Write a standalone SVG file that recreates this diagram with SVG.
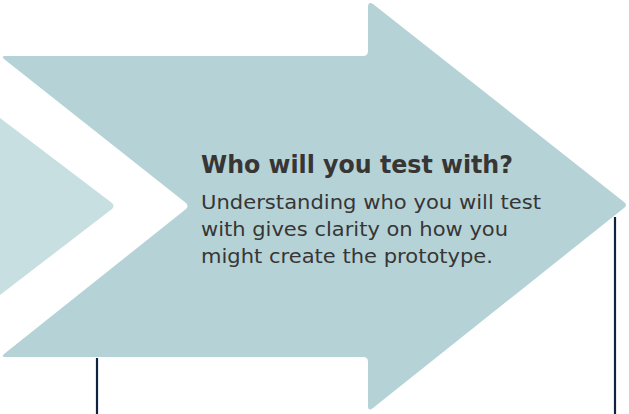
<svg xmlns="http://www.w3.org/2000/svg" width="629" height="414" viewBox="0 0 629 414">
<style>
.t{font-family:"DejaVu Sans","Liberation Sans",sans-serif;fill:#383535}
.h{font-size:24px;font-weight:bold}
.b{font-size:20px}
.ln{stroke:#0d2340;stroke-width:2.2;fill:none}
</style>
<rect width="629" height="414" fill="#ffffff"/>
<g id="chevron-prev">
<path d="M0,118 L112,203 Q115,206 112,209 L0,295 Z" fill="#c8dfe2"/>
</g>
<g id="connectors">
<line class="ln" x1="97" y1="358" x2="97" y2="414"/>
<line class="ln" x1="615" y1="217" x2="615" y2="414"/>
</g>
<g id="arrow">
<path d="M5,56 L363,56 Q368,56 368,51 L368,7 Q368,1 373,4 L624,202 Q628,205 624,208 L373,408 Q368,412 368,406 L368,362 Q368,357 363,357 L5,357 Q1,357 4,354 L186,209 Q189,206 186,203 L4,59 Q1,56 5,56 Z" fill="#b5d3d7"/>
<text class="t h" x="201" y="173" textLength="312" lengthAdjust="spacingAndGlyphs">Who will you test with?</text>
<text class="t b" x="201" y="209" textLength="340" lengthAdjust="spacingAndGlyphs">Understanding who you will test</text>
<text class="t b" x="201" y="236" textLength="307" lengthAdjust="spacingAndGlyphs">with gives clarity on how you</text>
<text class="t b" x="201" y="263" textLength="292" lengthAdjust="spacingAndGlyphs">might create the prototype.</text>
</g>
</svg>
